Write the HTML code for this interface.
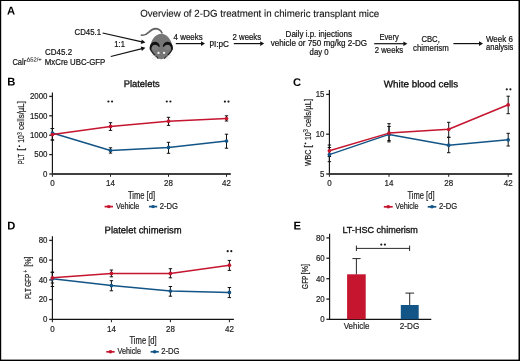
<!DOCTYPE html>
<html><head><meta charset="utf-8"><style>
html,body{margin:0;padding:0;background:#fff;}
svg{display:block;font-family:"Liberation Sans", sans-serif;will-change:transform;}

</style></head><body>
<svg width="520" height="361" viewBox="0 0 520 361">
<rect width="520" height="361" fill="#fff"/>
<rect x="0" y="0" width="520" height="1" fill="#000"/>
<rect x="0" y="0" width="1.2" height="361" fill="#000"/>
<rect x="518.5" y="0" width="1.5" height="361" fill="#000"/>
<rect x="0" y="359.6" width="520" height="1.4" fill="#000"/>
<text transform="matrix(1,0.0005,0,1,0,-0.0035)" x="7.0" y="14.6" font-size="11.2" font-weight="bold" fill="#000">A</text>
<text transform="matrix(1,0.0005,0,1,0,-0.0037)" x="7.3" y="85.4" font-size="11.2" font-weight="bold" fill="#000">B</text>
<text transform="matrix(1,0.0005,0,1,0,-0.1465)" x="293.0" y="86.0" font-size="11.2" font-weight="bold" fill="#000">C</text>
<text transform="matrix(1,0.0005,0,1,0,-0.0037)" x="7.3" y="229.6" font-size="11.2" font-weight="bold" fill="#000">D</text>
<text transform="matrix(1,0.0005,0,1,0,-0.1467)" x="293.4" y="229.6" font-size="11.2" font-weight="bold" fill="#000">E</text>
<text transform="matrix(1,0.0005,0,1,0,-0.0701)" x="140.2" y="16.8" font-size="9.9" textLength="239.0" lengthAdjust="spacingAndGlyphs" fill="#111" stroke="#111" stroke-width="0.1">Overview of 2-DG treatment in chimeric transplant mice</text>
<text transform="matrix(1,0.0005,0,1,0,-0.0373)" x="74.6" y="35.4" font-size="8.6" textLength="26.4" lengthAdjust="spacingAndGlyphs" fill="#111" stroke="#111" stroke-width="0.2">CD45.1</text>
<text transform="matrix(1,0.0005,0,1,0,-0.0571)" x="114.3" y="47.4" font-size="8.6" textLength="10.6" lengthAdjust="spacingAndGlyphs" fill="#111" stroke="#111" stroke-width="0.2">1:1</text>
<text transform="matrix(1,0.0005,0,1,0,-0.0226)" x="45.1" y="55.4" font-size="8.6" textLength="27.0" lengthAdjust="spacingAndGlyphs" fill="#111" stroke="#111" stroke-width="0.2">CD45.2</text>
<text transform="matrix(1,0.0005,0,1,0,-0.0062)" x="12.4" y="64.7" font-size="8.6" textLength="13.8" lengthAdjust="spacingAndGlyphs" fill="#111" stroke="#111" stroke-width="0.2">Calr</text>
<text transform="matrix(1,0.0005,0,1,0,-0.0132)" x="26.4" y="61.4" font-size="5.8" textLength="15.3" lengthAdjust="spacingAndGlyphs" fill="#111" stroke="#111" stroke-width="0.05">&#916;52/+</text>
<text transform="matrix(1,0.0005,0,1,0,-0.0224)" x="44.8" y="64.6" font-size="8.6" textLength="60.5" lengthAdjust="spacingAndGlyphs" fill="#111" stroke="#111" stroke-width="0.2">MxCre UBC-GFP</text>
<text transform="matrix(1,0.0005,0,1,0,-0.0868)" x="173.6" y="39.8" font-size="8.6" textLength="29.0" lengthAdjust="spacingAndGlyphs" fill="#111" stroke="#111" stroke-width="0.2">4 weeks</text>
<text transform="matrix(1,0.0005,0,1,0,-0.1047)" x="209.4" y="46.5" font-size="8.6" textLength="19.6" lengthAdjust="spacingAndGlyphs" fill="#111" stroke="#111" stroke-width="0.2">pI:pC</text>
<text transform="matrix(1,0.0005,0,1,0,-0.1163)" x="232.6" y="39.9" font-size="8.6" textLength="28.5" lengthAdjust="spacingAndGlyphs" fill="#111" stroke="#111" stroke-width="0.2">2 weeks</text>
<text transform="matrix(1,0.0005,0,1,0,-0.1594)" x="318.8" y="36.7" font-size="8.6" text-anchor="middle" textLength="66.4" lengthAdjust="spacingAndGlyphs" fill="#111" stroke="#111" stroke-width="0.2">Daily i.p. injections</text>
<text transform="matrix(1,0.0005,0,1,0,-0.1594)" x="318.9" y="45.9" font-size="8.6" text-anchor="middle" textLength="96.4" lengthAdjust="spacingAndGlyphs" fill="#111" stroke="#111" stroke-width="0.2">vehicle or 750 mg/kg 2-DG</text>
<text transform="matrix(1,0.0005,0,1,0,-0.1596)" x="319.1" y="54.7" font-size="8.6" text-anchor="middle" textLength="19.0" lengthAdjust="spacingAndGlyphs" fill="#111" stroke="#111" stroke-width="0.2">day 0</text>
<text transform="matrix(1,0.0005,0,1,0,-0.1946)" x="389.2" y="40.0" font-size="8.6" text-anchor="middle" textLength="19.4" lengthAdjust="spacingAndGlyphs" fill="#111" stroke="#111" stroke-width="0.2">Every</text>
<text transform="matrix(1,0.0005,0,1,0,-0.1945)" x="389.0" y="52.8" font-size="8.6" text-anchor="middle" textLength="28.4" lengthAdjust="spacingAndGlyphs" fill="#111" stroke="#111" stroke-width="0.2">2 weeks</text>
<text transform="matrix(1,0.0005,0,1,0,-0.2153)" x="430.6" y="42.0" font-size="8.6" text-anchor="middle" textLength="18.4" lengthAdjust="spacingAndGlyphs" fill="#111" stroke="#111" stroke-width="0.2">CBC,</text>
<text transform="matrix(1,0.0005,0,1,0,-0.2155)" x="430.9" y="51.1" font-size="8.6" text-anchor="middle" textLength="35.8" lengthAdjust="spacingAndGlyphs" fill="#111" stroke="#111" stroke-width="0.2">chimerism</text>
<text transform="matrix(1,0.0005,0,1,0,-0.2497)" x="499.4" y="41.6" font-size="8.6" text-anchor="middle" textLength="26.8" lengthAdjust="spacingAndGlyphs" fill="#111" stroke="#111" stroke-width="0.2">Week 6</text>
<text transform="matrix(1,0.0005,0,1,0,-0.2498)" x="499.7" y="50.2" font-size="8.6" text-anchor="middle" textLength="27.4" lengthAdjust="spacingAndGlyphs" fill="#111" stroke="#111" stroke-width="0.2">analysis</text>
<line x1="175.8" y1="43.6" x2="201.5" y2="43.6" stroke="#111" stroke-width="1.2"/>
<path d="M201.0,41.300000000000004 L205.0,43.6 L201.0,45.9 Z" fill="#111" stroke="none" stroke-width="1"/>
<line x1="233.8" y1="43.6" x2="260.7" y2="43.6" stroke="#111" stroke-width="1.2"/>
<path d="M260.2,41.300000000000004 L264.2,43.6 L260.2,45.9 Z" fill="#111" stroke="none" stroke-width="1"/>
<line x1="374.2" y1="43.7" x2="403.9" y2="43.7" stroke="#111" stroke-width="1.2"/>
<path d="M403.4,41.400000000000006 L407.4,43.7 L403.4,46.0 Z" fill="#111" stroke="none" stroke-width="1"/>
<line x1="453.4" y1="43.6" x2="479.5" y2="43.6" stroke="#111" stroke-width="1.2"/>
<path d="M479.0,41.300000000000004 L483.0,43.6 L479.0,45.9 Z" fill="#111" stroke="none" stroke-width="1"/>
<line x1="102.6" y1="33.0" x2="141.98485396311924" y2="41.83398593565291" stroke="#111" stroke-width="1.2"/>
<path d="M140.80,43.93 L145.4,42.6 L141.81,39.44 Z" fill="#111" stroke="none" stroke-width="1"/>
<line x1="110.8" y1="56.5" x2="142.0056585332339" y2="48.653490484418064" stroke="#111" stroke-width="1.2"/>
<path d="M141.89,51.05 L145.4,47.8 L140.77,46.59 Z" fill="#111" stroke="none" stroke-width="1"/>
<g>
<path d="M141.4,35.1 C143.8,35.8 146.4,34.4 148.6,32.3 C150.8,30.2 152.9,28.7 155.5,28.6 C158.4,28.6 160.6,30.2 162.0,32.8" fill="none" stroke="#626262" stroke-width="1.6" stroke-linecap="round"/>
<path d="M161.3,33.8 C165.8,33.8 169.6,37.6 171.3,42.2 C172.3,44.9 172.9,46.8 172.6,48.4 C172.2,50.6 169.8,52.8 167.6,55 C165.6,57 163.4,59.3 161.3,59.3 C159.2,59.3 157,57 155,55 C152.8,52.8 150.4,50.6 150,48.4 C149.7,46.8 150.3,44.9 151.3,42.2 C153,37.6 156.8,33.8 161.3,33.8 Z" fill="#767676"/>
<path d="M150.4,49 C151.4,52.2 154.8,55.4 158.4,58.6" fill="none" stroke="#1e1e1e" stroke-width="1.25"/>
<path d="M172.2,49 C171.2,52.2 167.8,55.4 164.2,58.6" fill="none" stroke="#1e1e1e" stroke-width="1.25"/>
<ellipse cx="155.1" cy="47.2" rx="3.9" ry="2.7" fill="#7f7f7f"/>
<ellipse cx="167.5" cy="47.2" rx="3.9" ry="2.7" fill="#7f7f7f"/>
<path d="M149.7,49.4 C149.3,45.0 151.8,41.8 154.8,41.8 C157.4,41.8 159.5,43.6 159.9,46.4 L158.7,46.9 C157.9,45.5 156.6,44.7 155.0,44.7 C152.9,44.7 151.5,46.6 151.3,49.6 Z" fill="#111"/>
<path d="M172.9,49.4 C173.3,45.0 170.8,41.8 167.8,41.8 C165.2,41.8 163.1,43.6 162.7,46.4 L163.9,46.9 C164.7,45.5 166.0,44.7 167.6,44.7 C169.7,44.7 171.1,46.6 171.3,49.6 Z" fill="#111"/>
<circle cx="158.5" cy="52.9" r="1.15" fill="#f4f4f4"/>
<circle cx="164.1" cy="52.9" r="1.15" fill="#f4f4f4"/>
<path d="M156.2,55.8 L151.4,55.3 M156.2,56.4 L152,58.6 M156.8,57 L154.4,60.2 M166.4,55.8 L171.2,55.3 M166.4,56.4 L170.6,58.6 M165.8,57 L168.2,60.2" stroke="#cfcfcf" stroke-width="0.5"/>
</g>
<text transform="matrix(1,0.0005,0,1,0,-0.0708)" x="141.7" y="87.0" font-size="9.6" text-anchor="middle" textLength="36.0" lengthAdjust="spacingAndGlyphs" fill="#111" stroke="#111" stroke-width="0.32">Platelets</text>
<line x1="52.4" y1="92.4" x2="52.4" y2="174.8" stroke="#111" stroke-width="1.15"/>
<line x1="49.199999999999996" y1="96.4" x2="52.4" y2="96.4" stroke="#222" stroke-width="1.3"/>
<text transform="matrix(1,0.0005,0,1,0,-0.0238)" x="47.5" y="99.30000000000001" font-size="8.8" text-anchor="end" textLength="17.6" lengthAdjust="spacingAndGlyphs" fill="#222" stroke="#222" stroke-width="0.2">2000</text>
<line x1="49.199999999999996" y1="115.8" x2="52.4" y2="115.8" stroke="#222" stroke-width="1.3"/>
<text transform="matrix(1,0.0005,0,1,0,-0.0238)" x="47.5" y="118.7" font-size="8.8" text-anchor="end" textLength="17.6" lengthAdjust="spacingAndGlyphs" fill="#222" stroke="#222" stroke-width="0.2">1500</text>
<line x1="49.199999999999996" y1="135.2" x2="52.4" y2="135.2" stroke="#222" stroke-width="1.3"/>
<text transform="matrix(1,0.0005,0,1,0,-0.0238)" x="47.5" y="138.1" font-size="8.8" text-anchor="end" textLength="17.6" lengthAdjust="spacingAndGlyphs" fill="#222" stroke="#222" stroke-width="0.2">1000</text>
<line x1="49.199999999999996" y1="154.6" x2="52.4" y2="154.6" stroke="#222" stroke-width="1.3"/>
<text transform="matrix(1,0.0005,0,1,0,-0.0238)" x="47.5" y="157.5" font-size="8.8" text-anchor="end" textLength="13.2" lengthAdjust="spacingAndGlyphs" fill="#222" stroke="#222" stroke-width="0.2">500</text>
<line x1="49.199999999999996" y1="174.0" x2="52.4" y2="174.0" stroke="#222" stroke-width="1.3"/>
<text transform="matrix(1,0.0005,0,1,0,-0.0238)" x="47.5" y="176.9" font-size="8.8" text-anchor="end" textLength="4.4" lengthAdjust="spacingAndGlyphs" fill="#222" stroke="#222" stroke-width="0.2">0</text>
<line x1="52.4" y1="174.0" x2="230.8" y2="174.0" stroke="#404040" stroke-width="1.8"/>
<line x1="52.4" y1="174.0" x2="52.4" y2="176.8" stroke="#222" stroke-width="1.0"/>
<text transform="matrix(1,0.0005,0,1,0,-0.0262)" x="52.4" y="186.3" font-size="8.8" text-anchor="middle" textLength="4.45" lengthAdjust="spacingAndGlyphs" fill="#222" stroke="#222" stroke-width="0.2">0</text>
<line x1="110.5" y1="174.0" x2="110.5" y2="176.8" stroke="#222" stroke-width="1.0"/>
<text transform="matrix(1,0.0005,0,1,0,-0.0553)" x="110.5" y="186.3" font-size="8.8" text-anchor="middle" textLength="8.9" lengthAdjust="spacingAndGlyphs" fill="#222" stroke="#222" stroke-width="0.2">14</text>
<line x1="168.5" y1="174.0" x2="168.5" y2="176.8" stroke="#222" stroke-width="1.0"/>
<text transform="matrix(1,0.0005,0,1,0,-0.0843)" x="168.5" y="186.3" font-size="8.8" text-anchor="middle" textLength="8.9" lengthAdjust="spacingAndGlyphs" fill="#222" stroke="#222" stroke-width="0.2">28</text>
<line x1="226.5" y1="174.0" x2="226.5" y2="176.8" stroke="#222" stroke-width="1.0"/>
<text transform="matrix(1,0.0005,0,1,0,-0.1133)" x="226.5" y="186.3" font-size="8.8" text-anchor="middle" textLength="8.9" lengthAdjust="spacingAndGlyphs" fill="#222" stroke="#222" stroke-width="0.2">42</text>
<text transform="translate(24.0,164.3) rotate(-90)" x="0" y="0" font-size="9.4" textLength="10.6" lengthAdjust="spacingAndGlyphs" fill="#1a1a1a" stroke="#1a1a1a" stroke-width="0.2">PLT</text>
<text transform="translate(24.0,150.7) rotate(-90)" x="0" y="0" font-size="9.4" fill="#1a1a1a" stroke="#1a1a1a" stroke-width="0.2">[</text>
<circle cx="19.4" cy="146.2" r="0.85" fill="#1a1a1a"/>
<text transform="translate(24.0,142.7) rotate(-90)" x="0" y="0" font-size="9.8" textLength="7.6" lengthAdjust="spacingAndGlyphs" fill="#1a1a1a" stroke="#1a1a1a" stroke-width="0.2">10</text>
<text transform="translate(22.1,135.3) rotate(-90)" x="0" y="0" font-size="8.0" textLength="3.2" lengthAdjust="spacingAndGlyphs" fill="#1a1a1a" stroke="#1a1a1a" stroke-width="0.05">3</text>
<text transform="translate(24.0,130.0) rotate(-90)" x="0" y="0" font-size="9.4" textLength="28.9" lengthAdjust="spacingAndGlyphs" fill="#1a1a1a" stroke="#1a1a1a" stroke-width="0.2">cells/&#181;L]</text>
<text transform="matrix(1,0.0005,0,1,0,-0.0708)" x="141.5" y="198.6" font-size="10.1" text-anchor="middle" textLength="27.0" lengthAdjust="spacingAndGlyphs" fill="#222" stroke="#222" stroke-width="0.2">Time [d]</text>
<path d="M52.4,133.0 L110.5,150.5 L168.5,147.4 L226.5,141.0" fill="none" stroke="#135587" stroke-width="1.5" stroke-linejoin="round"/>
<path d="M52.4,134.6 L110.5,126.4 L168.5,121.2 L226.5,118.5" fill="none" stroke="#c5152f" stroke-width="1.5" stroke-linejoin="round"/>
<line x1="52.4" y1="128.5" x2="52.4" y2="140" stroke="#111" stroke-width="1.0"/>
<line x1="50.699999999999996" y1="128.5" x2="54.1" y2="128.5" stroke="#111" stroke-width="1.0"/>
<line x1="50.699999999999996" y1="140" x2="54.1" y2="140" stroke="#111" stroke-width="1.0"/>
<line x1="110.5" y1="147.8" x2="110.5" y2="153.1" stroke="#111" stroke-width="1.0"/>
<line x1="108.8" y1="147.8" x2="112.2" y2="147.8" stroke="#111" stroke-width="1.0"/>
<line x1="108.8" y1="153.1" x2="112.2" y2="153.1" stroke="#111" stroke-width="1.0"/>
<line x1="168.5" y1="142.3" x2="168.5" y2="153.3" stroke="#111" stroke-width="1.0"/>
<line x1="166.8" y1="142.3" x2="170.2" y2="142.3" stroke="#111" stroke-width="1.0"/>
<line x1="166.8" y1="153.3" x2="170.2" y2="153.3" stroke="#111" stroke-width="1.0"/>
<line x1="226.5" y1="134.2" x2="226.5" y2="148.2" stroke="#111" stroke-width="1.0"/>
<line x1="224.8" y1="134.2" x2="228.2" y2="134.2" stroke="#111" stroke-width="1.0"/>
<line x1="224.8" y1="148.2" x2="228.2" y2="148.2" stroke="#111" stroke-width="1.0"/>
<line x1="52.4" y1="128.5" x2="52.4" y2="140" stroke="#111" stroke-width="1.0"/>
<line x1="50.699999999999996" y1="128.5" x2="54.1" y2="128.5" stroke="#111" stroke-width="1.0"/>
<line x1="50.699999999999996" y1="140" x2="54.1" y2="140" stroke="#111" stroke-width="1.0"/>
<line x1="110.5" y1="122.7" x2="110.5" y2="130.4" stroke="#111" stroke-width="1.0"/>
<line x1="108.8" y1="122.7" x2="112.2" y2="122.7" stroke="#111" stroke-width="1.0"/>
<line x1="108.8" y1="130.4" x2="112.2" y2="130.4" stroke="#111" stroke-width="1.0"/>
<line x1="168.5" y1="117.3" x2="168.5" y2="125.4" stroke="#111" stroke-width="1.0"/>
<line x1="166.8" y1="117.3" x2="170.2" y2="117.3" stroke="#111" stroke-width="1.0"/>
<line x1="166.8" y1="125.4" x2="170.2" y2="125.4" stroke="#111" stroke-width="1.0"/>
<line x1="226.5" y1="115.8" x2="226.5" y2="121.0" stroke="#111" stroke-width="1.0"/>
<line x1="224.8" y1="115.8" x2="228.2" y2="115.8" stroke="#111" stroke-width="1.0"/>
<line x1="224.8" y1="121.0" x2="228.2" y2="121.0" stroke="#111" stroke-width="1.0"/>
<circle cx="52.4" cy="133.0" r="1.85" fill="#135587"/>
<circle cx="110.5" cy="150.5" r="1.85" fill="#135587"/>
<circle cx="168.5" cy="147.4" r="1.85" fill="#135587"/>
<circle cx="226.5" cy="141.0" r="1.85" fill="#135587"/>
<circle cx="52.4" cy="134.6" r="1.85" fill="#c5152f"/>
<circle cx="110.5" cy="126.4" r="1.85" fill="#c5152f"/>
<circle cx="168.5" cy="121.2" r="1.85" fill="#c5152f"/>
<circle cx="226.5" cy="118.5" r="1.85" fill="#c5152f"/>
<circle cx="108.45" cy="101.5" r="1.1" fill="#1a1a1a"/><circle cx="112.05" cy="101.5" r="1.1" fill="#1a1a1a"/>
<circle cx="166.80" cy="101.5" r="1.1" fill="#1a1a1a"/><circle cx="170.40" cy="101.5" r="1.1" fill="#1a1a1a"/>
<circle cx="224.90" cy="101.6" r="1.1" fill="#1a1a1a"/><circle cx="228.50" cy="101.6" r="1.1" fill="#1a1a1a"/>
<line x1="104.6" y1="206.6" x2="113.0" y2="206.6" stroke="#c5152f" stroke-width="1.7"/>
<ellipse cx="108.8" cy="206.6" rx="1.9" ry="1.7" fill="#c5152f"/>
<line x1="148.9" y1="206.6" x2="157.2" y2="206.6" stroke="#135587" stroke-width="1.7"/>
<ellipse cx="153.05" cy="206.6" rx="1.9" ry="1.7" fill="#135587"/>
<text transform="matrix(1,0.0005,0,1,0,-0.0580)" x="116.0" y="208.9" font-size="8.4" textLength="23.4" lengthAdjust="spacingAndGlyphs" fill="#222" stroke="#222" stroke-width="0.2">Vehicle</text>
<text transform="matrix(1,0.0005,0,1,0,-0.0799)" x="159.8" y="208.9" font-size="8.4" textLength="18.2" lengthAdjust="spacingAndGlyphs" fill="#222" stroke="#222" stroke-width="0.2">2-DG</text>
<text transform="matrix(1,0.0005,0,1,0,-0.2105)" x="421.0" y="87.3" font-size="9.6" text-anchor="middle" textLength="74.4" lengthAdjust="spacingAndGlyphs" fill="#111" stroke="#111" stroke-width="0.32">White blood cells</text>
<line x1="329.4" y1="90.0" x2="329.4" y2="174.8" stroke="#111" stroke-width="1.15"/>
<line x1="326.2" y1="94.4" x2="329.4" y2="94.4" stroke="#222" stroke-width="1.3"/>
<text transform="matrix(1,0.0005,0,1,0,-0.1623)" x="324.5" y="97.30000000000001" font-size="8.8" text-anchor="end" textLength="8.8" lengthAdjust="spacingAndGlyphs" fill="#222" stroke="#222" stroke-width="0.2">15</text>
<line x1="326.2" y1="134.2" x2="329.4" y2="134.2" stroke="#222" stroke-width="1.3"/>
<text transform="matrix(1,0.0005,0,1,0,-0.1623)" x="324.5" y="137.1" font-size="8.8" text-anchor="end" textLength="8.8" lengthAdjust="spacingAndGlyphs" fill="#222" stroke="#222" stroke-width="0.2">10</text>
<line x1="326.2" y1="174.0" x2="329.4" y2="174.0" stroke="#222" stroke-width="1.3"/>
<text transform="matrix(1,0.0005,0,1,0,-0.1623)" x="324.5" y="176.9" font-size="8.8" text-anchor="end" textLength="4.4" lengthAdjust="spacingAndGlyphs" fill="#222" stroke="#222" stroke-width="0.2">5</text>
<line x1="329.4" y1="174.0" x2="512.2" y2="174.0" stroke="#404040" stroke-width="1.8"/>
<line x1="329.4" y1="174.0" x2="329.4" y2="176.8" stroke="#222" stroke-width="1.0"/>
<text transform="matrix(1,0.0005,0,1,0,-0.1647)" x="329.4" y="186.3" font-size="8.8" text-anchor="middle" textLength="4.45" lengthAdjust="spacingAndGlyphs" fill="#222" stroke="#222" stroke-width="0.2">0</text>
<line x1="389.0" y1="174.0" x2="389.0" y2="176.8" stroke="#222" stroke-width="1.0"/>
<text transform="matrix(1,0.0005,0,1,0,-0.1945)" x="389.0" y="186.3" font-size="8.8" text-anchor="middle" textLength="8.9" lengthAdjust="spacingAndGlyphs" fill="#222" stroke="#222" stroke-width="0.2">14</text>
<line x1="448.7" y1="174.0" x2="448.7" y2="176.8" stroke="#222" stroke-width="1.0"/>
<text transform="matrix(1,0.0005,0,1,0,-0.2243)" x="448.7" y="186.3" font-size="8.8" text-anchor="middle" textLength="8.9" lengthAdjust="spacingAndGlyphs" fill="#222" stroke="#222" stroke-width="0.2">28</text>
<line x1="508.2" y1="174.0" x2="508.2" y2="176.8" stroke="#222" stroke-width="1.0"/>
<text transform="matrix(1,0.0005,0,1,0,-0.2541)" x="508.2" y="186.3" font-size="8.8" text-anchor="middle" textLength="8.9" lengthAdjust="spacingAndGlyphs" fill="#222" stroke="#222" stroke-width="0.2">42</text>
<text transform="translate(310.5,166.1) rotate(-90)" x="0" y="0" font-size="9.4" textLength="16.5" lengthAdjust="spacingAndGlyphs" fill="#1a1a1a" stroke="#1a1a1a" stroke-width="0.2">WBC</text>
<text transform="translate(310.5,147.7) rotate(-90)" x="0" y="0" font-size="9.4" fill="#1a1a1a" stroke="#1a1a1a" stroke-width="0.2">[</text>
<circle cx="305.4" cy="143.4" r="0.85" fill="#1a1a1a"/>
<text transform="translate(310.5,140.0) rotate(-90)" x="0" y="0" font-size="9.8" textLength="7.7" lengthAdjust="spacingAndGlyphs" fill="#1a1a1a" stroke="#1a1a1a" stroke-width="0.2">10</text>
<text transform="translate(308.3,132.5) rotate(-90)" x="0" y="0" font-size="8.0" textLength="3.5" lengthAdjust="spacingAndGlyphs" fill="#1a1a1a" stroke="#1a1a1a" stroke-width="0.05">3</text>
<text transform="translate(310.5,127.1) rotate(-90)" x="0" y="0" font-size="9.4" textLength="28.2" lengthAdjust="spacingAndGlyphs" fill="#1a1a1a" stroke="#1a1a1a" stroke-width="0.2">cells/&#181;L]</text>
<text transform="matrix(1,0.0005,0,1,0,-0.2105)" x="421.0" y="198.6" font-size="10.1" text-anchor="middle" textLength="27.0" lengthAdjust="spacingAndGlyphs" fill="#222" stroke="#222" stroke-width="0.2">Time [d]</text>
<path d="M329.4,154.6 L389.0,134.4 L448.7,145.2 L508.2,139.8" fill="none" stroke="#135587" stroke-width="1.5" stroke-linejoin="round"/>
<path d="M329.4,150.8 L389.0,133.1 L448.7,129.3 L508.2,104.8" fill="none" stroke="#c5152f" stroke-width="1.5" stroke-linejoin="round"/>
<line x1="329.4" y1="147.5" x2="329.4" y2="161.7" stroke="#111" stroke-width="1.0"/>
<line x1="327.7" y1="147.5" x2="331.09999999999997" y2="147.5" stroke="#111" stroke-width="1.0"/>
<line x1="327.7" y1="161.7" x2="331.09999999999997" y2="161.7" stroke="#111" stroke-width="1.0"/>
<line x1="389.0" y1="126.5" x2="389.0" y2="141.9" stroke="#111" stroke-width="1.0"/>
<line x1="387.3" y1="126.5" x2="390.7" y2="126.5" stroke="#111" stroke-width="1.0"/>
<line x1="387.3" y1="141.9" x2="390.7" y2="141.9" stroke="#111" stroke-width="1.0"/>
<line x1="448.7" y1="137.3" x2="448.7" y2="152.7" stroke="#111" stroke-width="1.0"/>
<line x1="447.0" y1="137.3" x2="450.4" y2="137.3" stroke="#111" stroke-width="1.0"/>
<line x1="447.0" y1="152.7" x2="450.4" y2="152.7" stroke="#111" stroke-width="1.0"/>
<line x1="508.2" y1="133.3" x2="508.2" y2="146.0" stroke="#111" stroke-width="1.0"/>
<line x1="506.5" y1="133.3" x2="509.9" y2="133.3" stroke="#111" stroke-width="1.0"/>
<line x1="506.5" y1="146.0" x2="509.9" y2="146.0" stroke="#111" stroke-width="1.0"/>
<line x1="329.4" y1="145.0" x2="329.4" y2="156.5" stroke="#111" stroke-width="1.0"/>
<line x1="327.7" y1="145.0" x2="331.09999999999997" y2="145.0" stroke="#111" stroke-width="1.0"/>
<line x1="327.7" y1="156.5" x2="331.09999999999997" y2="156.5" stroke="#111" stroke-width="1.0"/>
<line x1="389.0" y1="123.7" x2="389.0" y2="140.5" stroke="#111" stroke-width="1.0"/>
<line x1="387.3" y1="123.7" x2="390.7" y2="123.7" stroke="#111" stroke-width="1.0"/>
<line x1="387.3" y1="140.5" x2="390.7" y2="140.5" stroke="#111" stroke-width="1.0"/>
<line x1="448.7" y1="122.3" x2="448.7" y2="137.3" stroke="#111" stroke-width="1.0"/>
<line x1="447.0" y1="122.3" x2="450.4" y2="122.3" stroke="#111" stroke-width="1.0"/>
<line x1="447.0" y1="137.3" x2="450.4" y2="137.3" stroke="#111" stroke-width="1.0"/>
<line x1="508.2" y1="96.2" x2="508.2" y2="113.7" stroke="#111" stroke-width="1.0"/>
<line x1="506.5" y1="96.2" x2="509.9" y2="96.2" stroke="#111" stroke-width="1.0"/>
<line x1="506.5" y1="113.7" x2="509.9" y2="113.7" stroke="#111" stroke-width="1.0"/>
<circle cx="329.4" cy="154.6" r="1.85" fill="#135587"/>
<circle cx="389.0" cy="134.4" r="1.85" fill="#135587"/>
<circle cx="448.7" cy="145.2" r="1.85" fill="#135587"/>
<circle cx="508.2" cy="139.8" r="1.85" fill="#135587"/>
<circle cx="329.4" cy="150.8" r="1.85" fill="#c5152f"/>
<circle cx="389.0" cy="133.1" r="1.85" fill="#c5152f"/>
<circle cx="448.7" cy="129.3" r="1.85" fill="#c5152f"/>
<circle cx="508.2" cy="104.8" r="1.85" fill="#c5152f"/>
<circle cx="506.80" cy="89.3" r="1.1" fill="#1a1a1a"/><circle cx="510.40" cy="89.3" r="1.1" fill="#1a1a1a"/>
<line x1="383.8" y1="206.8" x2="392.7" y2="206.8" stroke="#c5152f" stroke-width="1.7"/>
<ellipse cx="388.25" cy="206.8" rx="1.9" ry="1.7" fill="#c5152f"/>
<line x1="427.7" y1="206.8" x2="436.3" y2="206.8" stroke="#135587" stroke-width="1.7"/>
<ellipse cx="432.0" cy="206.8" rx="1.9" ry="1.7" fill="#135587"/>
<text transform="matrix(1,0.0005,0,1,0,-0.1976)" x="395.2" y="209.10000000000002" font-size="8.4" textLength="23.4" lengthAdjust="spacingAndGlyphs" fill="#222" stroke="#222" stroke-width="0.2">Vehicle</text>
<text transform="matrix(1,0.0005,0,1,0,-0.2195)" x="439.0" y="209.10000000000002" font-size="8.4" textLength="18.2" lengthAdjust="spacingAndGlyphs" fill="#222" stroke="#222" stroke-width="0.2">2-DG</text>
<text transform="matrix(1,0.0005,0,1,0,-0.0716)" x="143.1" y="233.2" font-size="9.6" text-anchor="middle" textLength="77.0" lengthAdjust="spacingAndGlyphs" fill="#111" stroke="#111" stroke-width="0.32">Platelet chimerism</text>
<line x1="52.4" y1="236.3" x2="52.4" y2="320.2" stroke="#111" stroke-width="1.15"/>
<line x1="49.199999999999996" y1="240.4" x2="52.4" y2="240.4" stroke="#222" stroke-width="1.3"/>
<text transform="matrix(1,0.0005,0,1,0,-0.0238)" x="47.5" y="243.3" font-size="8.8" text-anchor="end" textLength="8.8" lengthAdjust="spacingAndGlyphs" fill="#222" stroke="#222" stroke-width="0.2">80</text>
<line x1="49.199999999999996" y1="260.1" x2="52.4" y2="260.1" stroke="#222" stroke-width="1.3"/>
<text transform="matrix(1,0.0005,0,1,0,-0.0238)" x="47.5" y="263.0" font-size="8.8" text-anchor="end" textLength="8.8" lengthAdjust="spacingAndGlyphs" fill="#222" stroke="#222" stroke-width="0.2">60</text>
<line x1="49.199999999999996" y1="279.9" x2="52.4" y2="279.9" stroke="#222" stroke-width="1.3"/>
<text transform="matrix(1,0.0005,0,1,0,-0.0238)" x="47.5" y="282.79999999999995" font-size="8.8" text-anchor="end" textLength="8.8" lengthAdjust="spacingAndGlyphs" fill="#222" stroke="#222" stroke-width="0.2">40</text>
<line x1="49.199999999999996" y1="299.6" x2="52.4" y2="299.6" stroke="#222" stroke-width="1.3"/>
<text transform="matrix(1,0.0005,0,1,0,-0.0238)" x="47.5" y="302.5" font-size="8.8" text-anchor="end" textLength="8.8" lengthAdjust="spacingAndGlyphs" fill="#222" stroke="#222" stroke-width="0.2">20</text>
<line x1="49.199999999999996" y1="319.4" x2="52.4" y2="319.4" stroke="#222" stroke-width="1.3"/>
<text transform="matrix(1,0.0005,0,1,0,-0.0238)" x="47.5" y="322.29999999999995" font-size="8.8" text-anchor="end" textLength="4.4" lengthAdjust="spacingAndGlyphs" fill="#222" stroke="#222" stroke-width="0.2">0</text>
<line x1="52.4" y1="319.45" x2="233.9" y2="319.45" stroke="#111" stroke-width="1.3"/>
<line x1="52.4" y1="319.45" x2="52.4" y2="322.25" stroke="#222" stroke-width="1.0"/>
<text transform="matrix(1,0.0005,0,1,0,-0.0262)" x="52.4" y="331.8" font-size="8.8" text-anchor="middle" textLength="4.45" lengthAdjust="spacingAndGlyphs" fill="#222" stroke="#222" stroke-width="0.2">0</text>
<line x1="111.4" y1="319.45" x2="111.4" y2="322.25" stroke="#222" stroke-width="1.0"/>
<text transform="matrix(1,0.0005,0,1,0,-0.0557)" x="111.4" y="331.8" font-size="8.8" text-anchor="middle" textLength="8.9" lengthAdjust="spacingAndGlyphs" fill="#222" stroke="#222" stroke-width="0.2">14</text>
<line x1="170.4" y1="319.45" x2="170.4" y2="322.25" stroke="#222" stroke-width="1.0"/>
<text transform="matrix(1,0.0005,0,1,0,-0.0852)" x="170.4" y="331.8" font-size="8.8" text-anchor="middle" textLength="8.9" lengthAdjust="spacingAndGlyphs" fill="#222" stroke="#222" stroke-width="0.2">28</text>
<line x1="229.4" y1="319.45" x2="229.4" y2="322.25" stroke="#222" stroke-width="1.0"/>
<text transform="matrix(1,0.0005,0,1,0,-0.1147)" x="229.4" y="331.8" font-size="8.8" text-anchor="middle" textLength="8.9" lengthAdjust="spacingAndGlyphs" fill="#222" stroke="#222" stroke-width="0.2">42</text>
<text transform="translate(31.0,299.1) rotate(-90)" x="0" y="0" font-size="9.2" textLength="10.9" lengthAdjust="spacingAndGlyphs" fill="#1a1a1a" stroke="#1a1a1a" stroke-width="0.2">PLT</text>
<text transform="translate(31.0,286.8) rotate(-90)" x="0" y="0" font-size="9.2" textLength="13.0" lengthAdjust="spacingAndGlyphs" fill="#1a1a1a" stroke="#1a1a1a" stroke-width="0.2">GFP</text>
<text transform="translate(28.2,272.8) rotate(-90)" x="0" y="0" font-size="6.5" textLength="3.0" lengthAdjust="spacingAndGlyphs" fill="#1a1a1a" stroke="#1a1a1a" stroke-width="0.05">+</text>
<text transform="translate(31.0,266.8) rotate(-90)" x="0" y="0" font-size="9.2" textLength="10.4" lengthAdjust="spacingAndGlyphs" fill="#1a1a1a" stroke="#1a1a1a" stroke-width="0.2">[%]</text>
<text transform="matrix(1,0.0005,0,1,0,-0.0716)" x="143.1" y="343.8" font-size="10.1" text-anchor="middle" textLength="27.2" lengthAdjust="spacingAndGlyphs" fill="#222" stroke="#222" stroke-width="0.2">Time [d]</text>
<path d="M52.4,278.8 L111.4,285.6 L170.4,291.0 L229.4,292.4" fill="none" stroke="#135587" stroke-width="1.5" stroke-linejoin="round"/>
<path d="M52.4,277.8 L111.4,273.4 L170.4,273.4 L229.4,265.2" fill="none" stroke="#c5152f" stroke-width="1.5" stroke-linejoin="round"/>
<line x1="52.4" y1="272.0" x2="52.4" y2="286.5" stroke="#111" stroke-width="1.0"/>
<line x1="50.699999999999996" y1="272.0" x2="54.1" y2="272.0" stroke="#111" stroke-width="1.0"/>
<line x1="50.699999999999996" y1="286.5" x2="54.1" y2="286.5" stroke="#111" stroke-width="1.0"/>
<line x1="111.4" y1="280.7" x2="111.4" y2="290.8" stroke="#111" stroke-width="1.0"/>
<line x1="109.7" y1="280.7" x2="113.10000000000001" y2="280.7" stroke="#111" stroke-width="1.0"/>
<line x1="109.7" y1="290.8" x2="113.10000000000001" y2="290.8" stroke="#111" stroke-width="1.0"/>
<line x1="170.4" y1="286.5" x2="170.4" y2="296.2" stroke="#111" stroke-width="1.0"/>
<line x1="168.70000000000002" y1="286.5" x2="172.1" y2="286.5" stroke="#111" stroke-width="1.0"/>
<line x1="168.70000000000002" y1="296.2" x2="172.1" y2="296.2" stroke="#111" stroke-width="1.0"/>
<line x1="229.4" y1="287.5" x2="229.4" y2="297.6" stroke="#111" stroke-width="1.0"/>
<line x1="227.70000000000002" y1="287.5" x2="231.1" y2="287.5" stroke="#111" stroke-width="1.0"/>
<line x1="227.70000000000002" y1="297.6" x2="231.1" y2="297.6" stroke="#111" stroke-width="1.0"/>
<line x1="52.4" y1="272.5" x2="52.4" y2="283.0" stroke="#111" stroke-width="1.0"/>
<line x1="50.699999999999996" y1="272.5" x2="54.1" y2="272.5" stroke="#111" stroke-width="1.0"/>
<line x1="50.699999999999996" y1="283.0" x2="54.1" y2="283.0" stroke="#111" stroke-width="1.0"/>
<line x1="111.4" y1="270.0" x2="111.4" y2="276.8" stroke="#111" stroke-width="1.0"/>
<line x1="109.7" y1="270.0" x2="113.10000000000001" y2="270.0" stroke="#111" stroke-width="1.0"/>
<line x1="109.7" y1="276.8" x2="113.10000000000001" y2="276.8" stroke="#111" stroke-width="1.0"/>
<line x1="170.4" y1="268.7" x2="170.4" y2="277.8" stroke="#111" stroke-width="1.0"/>
<line x1="168.70000000000002" y1="268.7" x2="172.1" y2="268.7" stroke="#111" stroke-width="1.0"/>
<line x1="168.70000000000002" y1="277.8" x2="172.1" y2="277.8" stroke="#111" stroke-width="1.0"/>
<line x1="229.4" y1="260.4" x2="229.4" y2="270.4" stroke="#111" stroke-width="1.0"/>
<line x1="227.70000000000002" y1="260.4" x2="231.1" y2="260.4" stroke="#111" stroke-width="1.0"/>
<line x1="227.70000000000002" y1="270.4" x2="231.1" y2="270.4" stroke="#111" stroke-width="1.0"/>
<circle cx="52.4" cy="278.8" r="1.85" fill="#135587"/>
<circle cx="111.4" cy="285.6" r="1.85" fill="#135587"/>
<circle cx="170.4" cy="291.0" r="1.85" fill="#135587"/>
<circle cx="229.4" cy="292.4" r="1.85" fill="#135587"/>
<circle cx="52.4" cy="277.8" r="1.85" fill="#c5152f"/>
<circle cx="111.4" cy="273.4" r="1.85" fill="#c5152f"/>
<circle cx="170.4" cy="273.4" r="1.85" fill="#c5152f"/>
<circle cx="229.4" cy="265.2" r="1.85" fill="#c5152f"/>
<circle cx="227.70" cy="251.2" r="1.1" fill="#1a1a1a"/><circle cx="231.30" cy="251.2" r="1.1" fill="#1a1a1a"/>
<line x1="106.3" y1="351.8" x2="114.6" y2="351.8" stroke="#c5152f" stroke-width="1.7"/>
<ellipse cx="110.44999999999999" cy="351.8" rx="1.9" ry="1.7" fill="#c5152f"/>
<line x1="150.6" y1="351.8" x2="158.8" y2="351.8" stroke="#135587" stroke-width="1.7"/>
<ellipse cx="154.7" cy="351.8" rx="1.9" ry="1.7" fill="#135587"/>
<text transform="matrix(1,0.0005,0,1,0,-0.0588)" x="117.6" y="354.1" font-size="8.4" textLength="23.4" lengthAdjust="spacingAndGlyphs" fill="#222" stroke="#222" stroke-width="0.2">Vehicle</text>
<text transform="matrix(1,0.0005,0,1,0,-0.0807)" x="161.3" y="354.1" font-size="8.4" textLength="18.2" lengthAdjust="spacingAndGlyphs" fill="#222" stroke="#222" stroke-width="0.2">2-DG</text>
<text transform="matrix(1,0.0005,0,1,0,-0.1901)" x="380.2" y="233.3" font-size="9.6" text-anchor="middle" textLength="75.5" lengthAdjust="spacingAndGlyphs" fill="#111" stroke="#111" stroke-width="0.32">LT-HSC chimerism</text>
<line x1="329.6" y1="233.8" x2="329.6" y2="320.1" stroke="#111" stroke-width="1.15"/>
<line x1="326.40000000000003" y1="237.9" x2="329.6" y2="237.9" stroke="#222" stroke-width="1.3"/>
<text transform="matrix(1,0.0005,0,1,0,-0.1624)" x="324.70000000000005" y="240.8" font-size="8.8" text-anchor="end" textLength="8.8" lengthAdjust="spacingAndGlyphs" fill="#222" stroke="#222" stroke-width="0.2">80</text>
<line x1="326.40000000000003" y1="258.2" x2="329.6" y2="258.2" stroke="#222" stroke-width="1.3"/>
<text transform="matrix(1,0.0005,0,1,0,-0.1624)" x="324.70000000000005" y="261.09999999999997" font-size="8.8" text-anchor="end" textLength="8.8" lengthAdjust="spacingAndGlyphs" fill="#222" stroke="#222" stroke-width="0.2">60</text>
<line x1="326.40000000000003" y1="278.7" x2="329.6" y2="278.7" stroke="#222" stroke-width="1.3"/>
<text transform="matrix(1,0.0005,0,1,0,-0.1624)" x="324.70000000000005" y="281.59999999999997" font-size="8.8" text-anchor="end" textLength="8.8" lengthAdjust="spacingAndGlyphs" fill="#222" stroke="#222" stroke-width="0.2">40</text>
<line x1="326.40000000000003" y1="299.1" x2="329.6" y2="299.1" stroke="#222" stroke-width="1.3"/>
<text transform="matrix(1,0.0005,0,1,0,-0.1624)" x="324.70000000000005" y="302.0" font-size="8.8" text-anchor="end" textLength="8.8" lengthAdjust="spacingAndGlyphs" fill="#222" stroke="#222" stroke-width="0.2">20</text>
<line x1="326.40000000000003" y1="319.3" x2="329.6" y2="319.3" stroke="#222" stroke-width="1.3"/>
<text transform="matrix(1,0.0005,0,1,0,-0.1624)" x="324.70000000000005" y="322.2" font-size="8.8" text-anchor="end" textLength="4.4" lengthAdjust="spacingAndGlyphs" fill="#222" stroke="#222" stroke-width="0.2">0</text>
<line x1="329.6" y1="319.3" x2="431.3" y2="319.3" stroke="#111" stroke-width="1.3"/>
<rect x="347.1" y="274.3" width="18.6" height="45.0" fill="#c5152f"/>
<rect x="400.8" y="305.0" width="17.9" height="14.3" fill="#135587"/>
<line x1="356.4" y1="258.6" x2="356.4" y2="274.3" stroke="#111" stroke-width="0.9"/>
<line x1="352.4" y1="258.6" x2="360.6" y2="258.6" stroke="#111" stroke-width="0.9"/>
<line x1="409.7" y1="293.1" x2="409.7" y2="305.0" stroke="#111" stroke-width="0.9"/>
<line x1="405.4" y1="293.1" x2="414.1" y2="293.1" stroke="#111" stroke-width="0.9"/>
<line x1="356.4" y1="248.4" x2="409.6" y2="248.4" stroke="#111" stroke-width="0.9"/>
<line x1="356.4" y1="245.6" x2="356.4" y2="251.0" stroke="#111" stroke-width="0.9"/>
<line x1="409.6" y1="245.6" x2="409.6" y2="251.0" stroke="#111" stroke-width="0.9"/>
<circle cx="381.30" cy="244.6" r="1.1" fill="#1a1a1a"/><circle cx="384.90" cy="244.6" r="1.1" fill="#1a1a1a"/>
<text transform="translate(308.3,288.9) rotate(-90)" x="0" y="0" font-size="9.2" textLength="13.3" lengthAdjust="spacingAndGlyphs" fill="#1a1a1a" stroke="#1a1a1a" stroke-width="0.2">GFP</text>
<text transform="translate(308.3,274.4) rotate(-90)" x="0" y="0" font-size="9.2" textLength="10.5" lengthAdjust="spacingAndGlyphs" fill="#1a1a1a" stroke="#1a1a1a" stroke-width="0.2">[%]</text>
<text transform="matrix(1,0.0005,0,1,0,-0.1783)" x="356.6" y="329.0" font-size="9.2" text-anchor="middle" textLength="25.8" lengthAdjust="spacingAndGlyphs" fill="#222" stroke="#222" stroke-width="0.2">Vehicle</text>
<text transform="matrix(1,0.0005,0,1,0,-0.2048)" x="409.5" y="329.0" font-size="9.2" text-anchor="middle" textLength="19.4" lengthAdjust="spacingAndGlyphs" fill="#222" stroke="#222" stroke-width="0.2">2-DG</text>
</svg>
</body></html>
